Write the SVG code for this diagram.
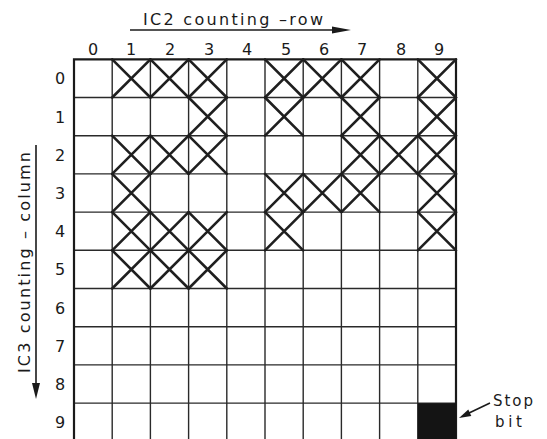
<svg xmlns="http://www.w3.org/2000/svg" width="547" height="439" viewBox="0 0 547 439">
<style>
.t{font-family:"DejaVu Sans","Liberation Sans",sans-serif;fill:#1a1a1a}
.d{font-size:16px;text-anchor:middle}
.g{stroke:#2a2a2a;stroke-width:1.4;fill:none}
.b{stroke:#1a1a1a;stroke-width:2.2;fill:none}
.x{stroke:#1f1f1f;stroke-width:2.6;fill:none;stroke-linecap:round}
.c{stroke:#1a1a1a;stroke-width:1.6;fill:none}
.h{fill:#1a1a1a}
</style>
<defs>
<path id="x" class="x" d="M0,0 L38.2,38.2 M38.2,0 L0,38.2"/>
</defs>
<rect width="547" height="439" fill="#fff"/>
<g id="grid">
<path class="g" d="M112.2,59.3V441.3M150.4,59.3V441.3M188.6,59.3V441.3M226.8,59.3V441.3M265,59.3V441.3M303.2,59.3V441.3M341.4,59.3V441.3M379.6,59.3V441.3M417.8,59.3V441.3
M74,97.5H456M74,135.7H456M74,173.9H456M74,212.1H456M74,250.3H456M74,288.5H456M74,326.7H456M74,364.9H456M74,403.1H456"/>
<path class="b" d="M74,441.3V59.3H456V441.3"/>
</g>
<g id="crosses">
<use href="#x" x="112.2" y="59.3"/><use href="#x" x="150.4" y="59.3"/><use href="#x" x="188.6" y="59.3"/><use href="#x" x="265" y="59.3"/><use href="#x" x="303.2" y="59.3"/><use href="#x" x="341.4" y="59.3"/><use href="#x" x="417.8" y="59.3"/>
<use href="#x" x="188.6" y="97.5"/><use href="#x" x="265" y="97.5"/><use href="#x" x="341.4" y="97.5"/><use href="#x" x="417.8" y="97.5"/>
<use href="#x" x="112.2" y="135.7"/><use href="#x" x="150.4" y="135.7"/><use href="#x" x="188.6" y="135.7"/><use href="#x" x="341.4" y="135.7"/><use href="#x" x="379.6" y="135.7"/><use href="#x" x="417.8" y="135.7"/>
<use href="#x" x="112.2" y="173.9"/><use href="#x" x="265" y="173.9"/><use href="#x" x="303.2" y="173.9"/><use href="#x" x="341.4" y="173.9"/><use href="#x" x="417.8" y="173.9"/>
<use href="#x" x="112.2" y="212.1"/><use href="#x" x="150.4" y="212.1"/><use href="#x" x="188.6" y="212.1"/><use href="#x" x="265" y="212.1"/><use href="#x" x="417.8" y="212.1"/>
<use href="#x" x="112.2" y="250.3"/><use href="#x" x="150.4" y="250.3"/><use href="#x" x="188.6" y="250.3"/>
</g>
<g id="stop-cell">
<rect x="417.8" y="403.1" width="38.2" height="38.2" fill="#141414"/>
</g>
<g id="col-labels" class="t d">
<text x="93" y="55">0</text><text x="131" y="55">1</text><text x="170" y="55">2</text><text x="209" y="55">3</text><text x="247" y="55">4</text><text x="286" y="55">5</text><text x="324" y="55">6</text><text x="362" y="55">7</text><text x="401" y="55">8</text><text x="439" y="55">9</text>
</g>
<g id="row-labels" class="t d">
<text x="60" y="84.4">0</text><text x="60" y="122.6">1</text><text x="60" y="160.8">2</text><text x="60" y="199">3</text><text x="60" y="237.2">4</text><text x="60" y="275.4">5</text><text x="60" y="313.6">6</text><text x="60" y="351.8">7</text><text x="60" y="390">8</text><text x="60" y="428.2">9</text>
</g>
<g id="title-row">
<text class="t" x="143" y="25" font-size="16" textLength="180" lengthAdjust="spacing">IC2 counting –row</text>
</g>
<g id="title-column">
<text class="t" font-size="16" text-anchor="middle" textLength="221" lengthAdjust="spacing" transform="translate(30,262.5) rotate(-90)">IC3 counting – column</text>
</g>
<g id="stop-label">
<text class="t" x="493" y="406" font-size="15" textLength="40" lengthAdjust="spacing">Stop</text>
<text class="t" x="495" y="427" font-size="15" textLength="27" lengthAdjust="spacing">bit</text>
</g>
<g id="connectors">
<path class="c" d="M130,30H336"/>
<polygon class="h" points="332,26.5 351,30 332,33.5"/>
<path class="c" d="M36,145V386"/>
<polygon class="h" points="32,383 40,383 36,399"/>
<path class="c" d="M490,403L468,413.5"/>
<polygon class="h" points="459,418 471.3,416 468.3,409.6"/>
</g>
</svg>
